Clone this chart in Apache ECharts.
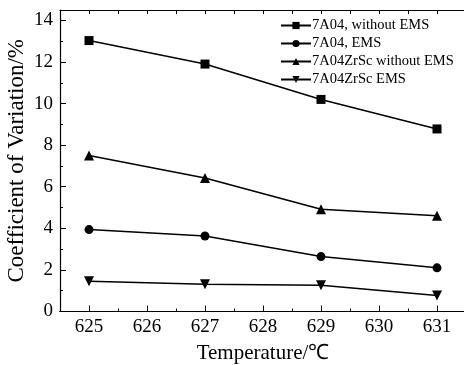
<!DOCTYPE html>
<html lang="en">
<head>
    <meta charset="UTF-8">
    <title>Coefficient of Variation</title>
    <script src="https://cdn.jsdelivr.net/npm/echarts@6.0.0/dist/echarts.min.js"></script>
    <style>
        body { margin: 0; background: #fff; }
        #chart { width: 464px; height: 365px; }
    </style>
</head>
<body>
    <div id="chart"></div>
    <script>
        // data
        const temps = [625, 627, 629, 631];
        const majorTicks = [625, 626, 627, 628, 629, 630, 631];
        const minorTicks = [624.5, 625.5, 626.5, 627.5, 628.5, 629.5, 630.5, 631.5];
        const seriesNames = ['7A04, without EMS', '7A04, EMS', '7A04ZrSc without EMS', '7A04ZrSc EMS'];
        const noEms7A04 = [13.03, 11.9, 10.2, 8.78];
        const ems7A04 = [3.94, 3.63, 2.64, 2.1];
        const noEmsZrSc = [7.5, 6.42, 4.92, 4.6];
        const emsZrSc = [1.46, 1.31, 1.26, 0.77];

        const font = "'Liberation Serif', 'Times New Roman', serif";
        const chart = echarts.init(document.getElementById('chart'));

        const baseX = {
            type: 'value', min: 624.5, max: 631.5,
            axisLine: { show: true, lineStyle: { color: '#000', width: 1.2 } },
            splitLine: { show: false }
        };

        function mkSeries(name, values, symbol, size, rotate) {
            return {
                name: name, type: 'line',
                data: temps.map((t, i) => [t, values[i]]),
                symbol: symbol, symbolSize: size, symbolRotate: rotate || 0,
                lineStyle: { color: '#000', width: 1.5 },
                itemStyle: { color: '#000' },
                emphasis: { disabled: true }
            };
        }

        chart.setOption({
            animation: false,
            textStyle: { fontFamily: font },
            grid: { left: 60, top: 10, width: 406, height: 301.5, outerBoundsMode: 'none', containLabel: false },
            legend: {
                data: seriesNames,
                orient: 'vertical', left: 275, top: 13,
                itemGap: 3, itemWidth: 30, itemHeight: 9,
                textStyle: { fontFamily: font, fontSize: 14.5, color: '#000', padding: [0, 0, 0, -4] }
            },
            xAxis: [
                Object.assign({}, baseX, {
                    position: 'bottom',
                    name: 'Temperature/\u2103', nameLocation: 'middle', nameGap: 31,
                    nameTextStyle: { fontFamily: font, fontSize: 21, color: '#000' },
                    axisTick: { inside: true, length: 6, customValues: majorTicks, lineStyle: { color: '#000' } },
                    axisLabel: { customValues: majorTicks, fontFamily: font, fontSize: 19, color: '#000', margin: 6 }
                }),
                Object.assign({}, baseX, {
                    position: 'bottom',
                    axisTick: { inside: true, length: 3, customValues: minorTicks, lineStyle: { color: '#000' } },
                    axisLabel: { show: false }
                }),
                Object.assign({}, baseX, {
                    position: 'top',
                    axisTick: { inside: true, length: 4, customValues: majorTicks.concat(minorTicks), lineStyle: { color: '#000' } },
                    axisLabel: { show: false }
                })
            ],
            yAxis: {
                type: 'value', min: 0, max: 14.5, interval: 2,
                name: 'Coefficient of Variation/%', nameLocation: 'middle', nameGap: 32,
                nameMoveOverlap: false,
                nameTextStyle: { fontFamily: font, fontSize: 23, color: '#000' },
                axisLine: { show: true, lineStyle: { color: '#000', width: 1.2 } },
                axisTick: { inside: true, length: 6, lineStyle: { color: '#000' } },
                minorTick: { show: true, splitNumber: 2, length: 3, lineStyle: { color: '#000' } },
                axisLabel: { fontFamily: font, fontSize: 19, color: '#000', margin: 7 },
                splitLine: { show: false }
            },
            series: [
                mkSeries(seriesNames[0], noEms7A04, 'rect', 9),
                mkSeries(seriesNames[1], ems7A04, 'circle', 9),
                mkSeries(seriesNames[2], noEmsZrSc, 'triangle', 10),
                mkSeries(seriesNames[3], emsZrSc, 'triangle', 10, 180)
            ]
        });
    </script>
</body>
</html>
